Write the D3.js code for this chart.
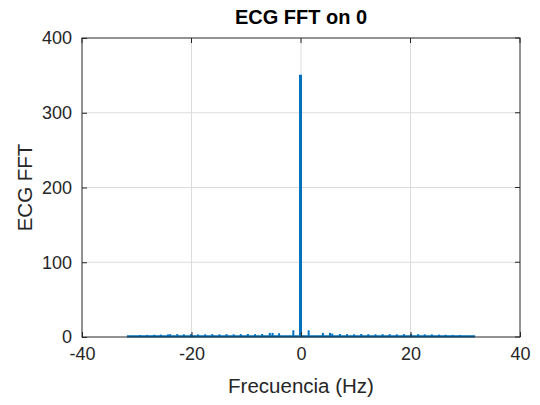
<!DOCTYPE html>
<html><head><meta charset="utf-8">
<script src="https://cdn.jsdelivr.net/npm/d3@7"></script>
<style>body{margin:0;background:#fff}svg{display:block}text{font-family:"Liberation Sans",Arial,sans-serif}</style>
</head><body>
<script>
const xTicks = [-40, -20, 0, 20, 40];
const yTicks = [0, 100, 200, 300, 400];
const dcFreq = [0];
const dcMag = [351];
// harmonic peaks (Hz) and magnitudes
const peakFreqs = [-29.4,-28.1,-26.8,-25.6,-24.3,-23.9,-22.6,-21.4,-20.1,-18.8,-17.5,-16.2,-14.9,-13.6,-12.3,-11.0,-9.7,-8.4,-7.1,-5.7,-5.2,-4.0,-1.4,
                   1.4,4.0,5.3,5.7,7.1,8.4,9.7,11.0,12.3,13.6,14.9,16.2,17.5,18.8,20.1,21.4,22.6,23.9,25.2,26.4,27.7,29.0];
const peakMags  = [2.5,2.8,3.0,3.2,3.5,3.8,3.8,3.6,3.8,3.5,3.6,3.8,3.6,3.8,3.6,3.8,4.0,3.8,4.0,5.5,5.5,5.0,9.0,
                   9.0,5.5,5.5,4.5,4.0,3.8,3.6,4.0,3.8,3.6,3.8,3.8,3.6,3.8,4.0,3.8,3.6,3.5,3.2,3.0,2.8,2.5];
const bandStart = -31.8, bandEnd = 31.8, bandLevel = 0.8;

const W = 540, H = 405;
const m = {l: 82, r: 20, t: 38, b: 68};
const svg = d3.select("body").append("svg").attr("width", W).attr("height", H);
const x = d3.scaleLinear().domain([-40, 40]).range([m.l, W - m.r]);
const y = d3.scaleLinear().domain([0, 400]).range([H - m.b, m.t]);

// grid
svg.append("g").selectAll("line").data(xTicks.slice(1, -1)).join("line")
  .attr("x1", d => x(d)).attr("x2", d => x(d)).attr("y1", y(0)).attr("y2", y(400))
  .attr("stroke", "#dcdcdc").attr("stroke-width", 1);
svg.append("g").selectAll("line").data(yTicks.slice(1, -1)).join("line")
  .attr("y1", d => y(d)).attr("y2", d => y(d)).attr("x1", x(-40)).attr("x2", x(40))
  .attr("stroke", "#dcdcdc").attr("stroke-width", 1);

const blue = "#0072BD";
// baseline band
svg.append("line").attr("x1", x(bandStart)).attr("x2", x(bandEnd))
  .attr("y1", y(bandLevel)).attr("y2", y(bandLevel)).attr("stroke", blue).attr("stroke-width", 2.2);
// small peaks
svg.append("g").selectAll("line").data(peakFreqs).join("line")
  .attr("x1", d => x(d)).attr("x2", d => x(d))
  .attr("y1", y(0)).attr("y2", (d, i) => y(peakMags[i]))
  .attr("stroke", blue).attr("stroke-width", 2);
// DC spike
svg.append("g").selectAll("line").data(dcFreq).join("line")
  .attr("x1", d => x(d) - 0.5).attr("x2", d => x(d) - 0.5)
  .attr("y1", y(0)).attr("y2", (d, i) => y(dcMag[i]))
  .attr("stroke", blue).attr("stroke-width", 3);

// box
svg.append("rect").attr("x", x(-40)).attr("y", y(400)).attr("width", x(40) - x(-40)).attr("height", y(0) - y(400))
  .attr("fill", "none").attr("stroke", "#262626").attr("stroke-width", 1);

// axes with inward ticks
const fmt = d => String(d);
const xa = svg.append("g").attr("transform", `translate(0,${y(0)})`)
  .call(d3.axisBottom(x).tickValues(xTicks).tickSizeInner(-5).tickSizeOuter(0).tickPadding(10).tickFormat(fmt));
const ya = svg.append("g").attr("transform", `translate(${x(-40)},0)`)
  .call(d3.axisLeft(y).tickValues(yTicks).tickSizeInner(-5).tickSizeOuter(0).tickPadding(10).tickFormat(fmt));
[xa, ya].forEach(g => {
  g.select(".domain").remove();
  g.selectAll("line").attr("stroke", "#262626");
  g.selectAll("text").attr("fill", "#262626").style("font-size", "18px").style("font-family", '"Liberation Sans",Arial,sans-serif');
});
// top/right ticks
svg.append("g").selectAll("line").data(xTicks).join("line")
  .attr("x1", d => x(d)).attr("x2", d => x(d)).attr("y1", y(400)).attr("y2", y(400) + 5).attr("stroke", "#262626");
svg.append("g").selectAll("line").data(yTicks).join("line")
  .attr("y1", d => y(d)).attr("y2", d => y(d)).attr("x1", x(40)).attr("x2", x(40) - 5).attr("stroke", "#262626");

svg.append("text").attr("x", (x(-40) + x(40)) / 2).attr("y", 24).attr("text-anchor", "middle")
  .style("font-size", "20px").style("font-weight", "bold").attr("fill", "#000").text("ECG FFT on 0");
svg.append("text").attr("x", (x(-40) + x(40)) / 2).attr("y", 393).attr("text-anchor", "middle")
  .style("font-size", "20.5px").attr("fill", "#262626").text("Frecuencia (Hz)");
svg.append("text").attr("transform", `translate(32,${(y(0) + y(400)) / 2}) rotate(-90)`).attr("text-anchor", "middle")
  .style("font-size", "20.5px").attr("fill", "#262626").text("ECG FFT");
</script>
</body></html>
